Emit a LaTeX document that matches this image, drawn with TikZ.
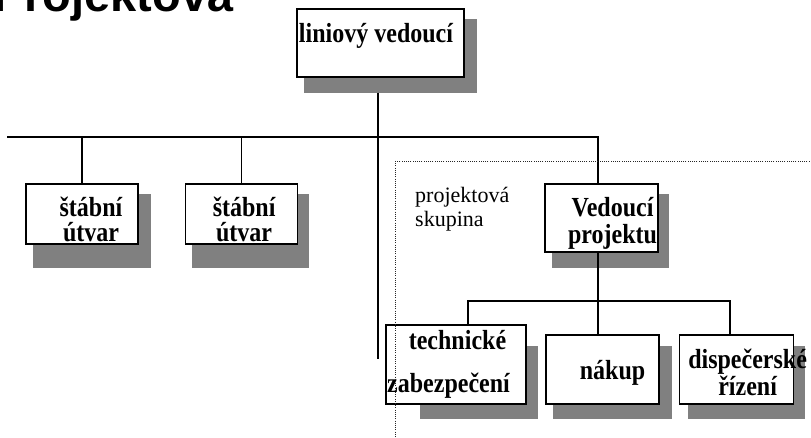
\documentclass[tikz,border=0pt]{standalone}
\usepackage{fontspec}
\setmainfont{Liberation Serif}
\newfontfamily\headfont{Liberation Sans}
\usetikzlibrary{positioning, calc}
\pgfdeclarelayer{background}
\pgfsetlayers{background,main}
\tikzstyle{unit}=[rectangle, draw=black, fill=white, line width=1.1pt, inner sep=0pt]
\tikzstyle{caption}=[inner sep=0pt, align=center, yscale=1.15, transform shape, font=\bfseries\fontsize{24}{22}\selectfont]
\tikzstyle{shade}=[fill=black!50]
\tikzstyle{link}=[line width=1.1pt]
\tikzstyle{group}=[line width=0.8pt, black!85, dash pattern=on 1pt off 1.2pt]

\begin{document}
\begin{tikzpicture}[x=1pt, y=-1pt]
            \useasboundingbox (0,0) rectangle (811,438);
            %Heading, cut off at the top edge
            \node[anchor=base west, inner sep=0pt, font=\headfont\bfseries\fontsize{47}{50}\selectfont](title) at (-7,12){Projektová};

            %Line manager and the two staff units
            \node[unit, minimum width=167pt, minimum height=68pt, label={[caption, xshift=-4.5pt, yshift=6pt]center:liniový vedoucí}](lv) at (380.5,43){};
            \node[unit, minimum width=112pt, minimum height=60pt, label={[caption, xshift=9pt, yshift=-5pt]center:štábní\\útvar}](st1) at (82,214){};
            \node[unit, minimum width=112pt, minimum height=60pt, right=46pt of st1, label={[caption, xshift=3pt, yshift=-5pt]center:štábní\\útvar}](st2){};

            %Project group
            \node[unit, minimum width=113pt, minimum height=68pt, label={[caption, xshift=11pt, yshift=-4.5pt]center:Vedoucí\\[2pt]projektu}](vp) at (601.5,218){};
            \node[unit, minimum width=140pt, minimum height=79pt, label={[caption, xshift=-7.5pt, yshift=0pt]center:\hspace*{18pt}technické\\[15pt]zabezpečení}](tz) at (456,364.5){};
            \node[unit, minimum width=113pt, minimum height=69pt, label={[caption, xshift=10pt, yshift=-2.5pt]center:nákup}](nk) at (602.5,369.5){};
            \node[unit, minimum width=114pt, minimum height=69pt, right=19pt of nk, label={[caption, xshift=11.5pt, yshift=-2.5pt]center:dispečerské\\řízení}](dr){};

            %Shadows behind the boxes
            \begin{pgfonlayer}{background}
                \foreach \n/\a/\b/\c/\d in {lv/8/11/12/15, st1/8/11/12/23, st2/7/11/11/23, vp/8/11/10/15, tz/35/22/11/14, nk/8/12/12/14, dr/9/12/11/14}{
                    \fill[shade] ($(\n.north west)+(\a,\b)$) rectangle ($(\n.south east)+(\c,\d)$);
                }
            \end{pgfonlayer}

            %Connections
            \coordinate (busL) at (7,137);
            \coordinate (busR) at (598,137);
            \coordinate (lvfoot) at (378,359);
            \coordinate (forkL) at (468,301);
            \coordinate (forkR) at (730,301);
            \draw[link, shorten <=15pt] (lv.south -| lvfoot) -- (lvfoot);
            \draw[link] (busL) -- (busR) -- (vp.north -| busR);
            \foreach \s in {st1,st2}{
                \draw[link] (\s.north) -- (\s.north |- busL);
            }
            \draw[link] (vp.south -| busR) -- (nk.north -| busR);
            \draw[link] (tz.north -| forkL) -- (forkL) -- (forkR) -- (dr.north -| forkR);

            %Dotted frame of the project group
            \draw[group] (395,161) rectangle (840,470);
            \node[anchor=north west, inner sep=0pt, align=left, font=\fontsize{22}{24}\selectfont](pg) at (415,187){projektová\\skupina};
        \end{tikzpicture}
\end{document}
